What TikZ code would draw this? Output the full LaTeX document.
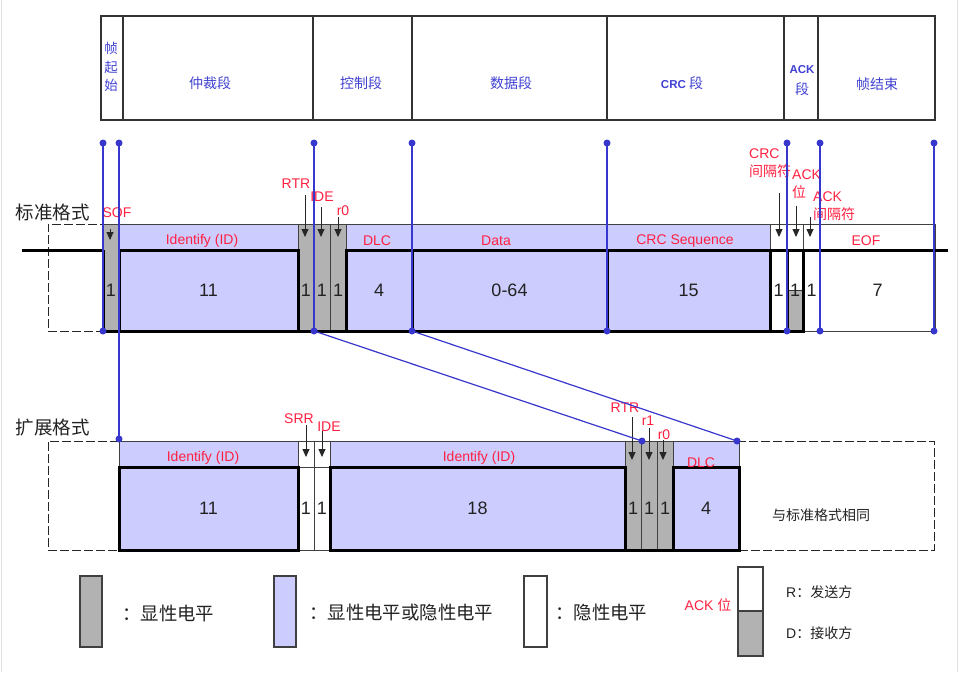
\documentclass[tikz,border=0pt]{standalone}
\usepackage{fontspec}
\setmainfont{Liberation Sans}
\newfontfamily\cjk{Noto Sans CJK SC}
\usepackage{tikz}
\usetikzlibrary{arrows.meta, calc}
\definecolor{lavfill}{RGB}{204,204,255}
\definecolor{domgray}{RGB}{178,178,178}
\definecolor{sigblue}{RGB}{55,55,205}
\definecolor{tagred}{RGB}{255,32,64}
\definecolor{hdrblue}{RGB}{64,64,210}
\definecolor{inkgray}{RGB}{34,34,34}

\tikzset{
  hdrline/.style={draw=black!80, line width=1.2pt},
  hdr/.style={text=hdrblue, font=\cjk\fontsize{14}{14}\selectfont, inner sep=0pt},
  rowname/.style={text=inkgray, font=\cjk\fontsize{18.5}{18.5}\selectfont, inner sep=0pt},
  cell/.style={draw=black!75, line width=0.8pt, inner sep=0pt, outer sep=0pt, anchor=north west},
  sz/.style 2 args={minimum width=#1, minimum height=#2},
  dom/.style={fill=domgray},
  mix/.style={fill=lavfill},
  rec/.style={fill=white},
  lowbox/.style={cell, draw=black, line width=3pt, text=inkgray, font=\fontsize{18}{18}\selectfont},
  gapbox/.style={cell, draw=black!85, dash pattern=on 9pt off 3pt},
  wave/.style={draw=black, line width=3pt},
  tag/.style={text=tagred, font=\fontsize{14}{14}\selectfont, inner sep=0pt},
  num/.style={text=inkgray, font=\fontsize{18}{18}\selectfont, inner sep=0pt},
  darr/.style={draw=black!85, line width=0.9pt, -{Triangle[length=8pt, width=7pt]}},
  sig/.style={draw=sigblue, line width=1.2pt},
  dot/.style={circle, fill=sigblue, inner sep=0pt, minimum size=7pt},
  legtxt/.style={anchor=west, text=inkgray, font=\cjk\fontsize{18.4}{18.4}\selectfont, inner sep=0pt},
  keytxt/.style={anchor=west, text=inkgray, font=\fontsize{14}{14}\selectfont, inner sep=0pt},
}

\begin{document}
\begin{tikzpicture}[x=1pt, y=-1pt]
\useasboundingbox (0,0) rectangle (960,672);
\draw[black!12] (1.5,0) -- (1.5,672);
\draw[black!12] (957.5,0) -- (957.5,672);

% field names
\draw[hdrline] (101,16) rectangle (935,120);
\foreach \x in {123,313,412,607,784,818}
  \draw[hdrline] (\x,16) -- (\x,120);
\node[hdr, align=center, font=\cjk\fontsize{13.5}{18.5}\selectfont] (hsof) at (111,67) {帧\\起\\始};
\node[hdr] (harb) at (210,83) {仲裁段};
\node[hdr] (hctl) at (361,83) {控制段};
\node[hdr] (hdata) at (511,83) {数据段};
\node[hdr] (hcrc) at (682,83) {{\rmfamily\bfseries\fontsize{11.5}{11.5}\selectfont CRC} 段};
\node[hdr, font=\rmfamily\bfseries\fontsize{11.5}{11.5}\selectfont] (hack) at (802,70) {ACK};
\node[hdr] (hackb) at (802,89) {段};
\node[hdr] (heof) at (877,84) {帧结束};

\node[rowname] (stdname) at (53,212) {标准格式};
\node[rowname] (extname) at (53,427) {扩展格式};

% standard format
\coordinate (busw) at (22,250);
\coordinate (buse) at (948,250);
\node[gapbox, sz={55}{107}] (stdpre) at (48,224) {};
\node[cell, mix, sz={179}{26}] (idup) at (119,224) {};
\node[cell, mix, sz={66}{26}] (dlcup) at (346,224) {};
\node[cell, mix, sz={195}{26}] (dataup) at (412,224) {};
\node[cell, mix, sz={163}{26}] (crcup) at (607,224) {};
\node[cell, rec, sz={17}{26}] (cdelup) at (770,224) {};
\node[cell, rec, sz={16}{26}] (ackup) at (787,224) {};
\node[cell, rec, sz={132}{26}] (eofup) at (803,224) {};
\node[cell, num, sz={17}{81}] (cdello) at (770,250) {1};
\node[cell, num, sz={17}{81}] (ackdl) at (803,250) {1};
\node[cell, num, sz={115}{81}] (eoflo) at (820,250) {7};
\draw[wave] (busw) -- (buse);
\node[cell, dom, sz={16}{107}] (sof) at (103,224) {};
\node[cell, dom, sz={16}{107}] (rtr) at (298,224) {};
\node[cell, dom, sz={16}{107}] (ide) at (314,224) {};
\node[cell, dom, sz={16}{107}] (rzero) at (330,224) {};
\node[lowbox, mix, sz={179}{81}] (idlo) at (119,250) {11};
\node[lowbox, mix, sz={66}{81}] (dlclo) at (346,250) {4};
\node[lowbox, mix, sz={195}{81}] (datalo) at (412,250) {0-64};
\node[lowbox, mix, sz={163}{81}] (crclo) at (607,250) {15};
\node[lowbox, rec, sz={16}{81}, path picture={
    \fill[domgray] (path picture bounding box.west) rectangle (path picture bounding box.south east);
    \draw[black!80, line width=0.8pt] (path picture bounding box.west) -- (path picture bounding box.east);}] (acklo) at (787,250) {1};
\draw[wave] (sof.west |- busw) -- (sof.south west) -- (sof.south east);
\draw[wave] (rtr.south west) -- (rzero.south east);
\draw[wave] (cdello.south west) -- (cdello.south east);
\node[num] (nsof) at (sof |- idlo) {1};
\node[num] (nrtr) at (rtr |- idlo) {1};
\node[num] (nide) at (ide |- idlo) {1};
\node[num] (nrzero) at (rzero |- idlo) {1};

\node[tag] (tsof) at (117,213) {SOF};
\node[tag] (trtr) at (296,184) {RTR};
\node[tag] (tide) at (322,197) {IDE};
\node[tag] (trzero) at (343,211) {r0};
\node[tag] (tid) at (202,241) {Identify (ID)};
\node[tag] (tdlc) at (377,241) {DLC};
\node[tag] (tdata) at (496,241) {Data};
\node[tag] (tcrc) at (685,241) {CRC Sequence};
\node[tag] (teof) at (866,241) {EOF};
\node[tag, anchor=north west, align=left, font=\fontsize{14}{18}\selectfont] (tcdel) at (749,149) {CRC\\{\cjk 间隔符}};
\node[tag, anchor=north west, align=left, font=\fontsize{14}{18}\selectfont] (tack) at (792,170) {ACK\\{\cjk 位}};
\node[tag, anchor=north west, align=left, font=\fontsize{14}{18}\selectfont] (tackdl) at (813,192) {ACK\\{\cjk 间隔符}};

\draw[darr] (sof.north) ++(-1,5) -- ++(0,11);
\draw[darr] (rtr.north) ++(-1,-29) -- ++(0,42);
\draw[darr] (ide.north) ++(-1,-17) -- ++(0,30);
\draw[darr] (rzero.north) ++(0,-7) -- ++(0,20);
\draw[darr] (cdelup.north) ++(0.5,-31) -- ++(0,44);
\draw[darr] (ackup.north) ++(1,-18) -- ++(0,31);
\draw[darr] (ackdl.north) ++(-1.5,-33) -- ++(0,20);

% extended format
\node[gapbox, sz={71}{109}] (extpre) at (48,441) {};
\node[gapbox, sz={195}{109}] (extpost) at (739,441) {};
\node[cell, mix, sz={179}{26}] (xidaup) at (119,441) {};
\node[cell, rec, sz={16}{26}] (srrup) at (298,441) {};
\node[cell, rec, sz={16}{26}] (xideup) at (314,441) {};
\node[cell, mix, sz={295}{26}] (xidbup) at (330,441) {};
\node[cell, mix, sz={66}{26}] (xdlcup) at (673,441) {};
\node[cell, num, sz={16}{83}] (srrlo) at (298,467) {1};
\node[cell, num, sz={16}{83}] (xidelo) at (314,467) {1};
\node[cell, dom, sz={16}{109}] (xrtr) at (625,441) {};
\node[cell, dom, sz={16}{109}] (xrone) at (641,441) {};
\node[cell, dom, sz={16}{109}] (xrzero) at (657,441) {};
\node[lowbox, mix, sz={179}{83}] (xidalo) at (119,467) {11};
\node[lowbox, mix, sz={295}{83}] (xidblo) at (330,467) {18};
\node[lowbox, mix, sz={66}{83}] (xdlclo) at (673,467) {4};
\draw[wave] (xrtr.south west) -- (xrzero.south east);
\node[num] (nxrtr) at (xrtr |- xidalo) {1};
\node[num] (nxrone) at (xrone |- xidalo) {1};
\node[num] (nxrzero) at (xrzero |- xidalo) {1};
\node[text=inkgray, font=\cjk\fontsize{14}{14}\selectfont, inner sep=0pt] (same) at (821,515) {与标准格式相同};

\node[tag] (txida) at (203,458) {Identify (ID)};
\node[tag] (txidb) at (479,458) {Identify (ID)};
\node[tag] (tsrr) at (299,419) {SRR};
\node[tag] (txide) at (329,427) {IDE};
\node[tag] (txrtr) at (625,408) {RTR};
\node[tag] (txrone) at (648,421) {r1};
\node[tag] (txrzero) at (664,435) {r0};
\node[tag] (txdlc) at (701,463) {DLC};

\draw[darr] (srrup.north) ++(0,-16) -- ++(0,32);
\draw[darr] (xideup.north) ++(0,-10) -- ++(0,26);
\draw[darr] (xrtr.north) ++(-1,-24) -- ++(0,43);
\draw[darr] (xrone.north) ++(0,-13) -- ++(0,32);
\draw[darr] (xrzero.north) ++(-2,-1) -- ++(0,20);

% legend
\node[cell, dom, line width=1.1pt, sz={22}{71}] (lgdom) at (80,576) {};
\node[legtxt] (lgdomt) at (122,613) {：显性电平};
\node[cell, mix, line width=1.1pt, sz={22}{71}] (lgmix) at (274,576) {};
\node[legtxt] (lgmixt) at (309,613) {：显性电平或隐性电平};
\node[cell, rec, line width=1.1pt, sz={23}{71}] (lgrec) at (524,576) {};
\node[legtxt] (lgrect) at (555,612) {：隐性电平};
\node[tag] (lgack) at (708,605) {ACK {\cjk 位}};
\node[cell, rec, line width=1.1pt, sz={25}{44}] (lgackr) at (738,567) {};
\node[cell, dom, line width=1.1pt, sz={25}{45}] (lgackd) at (738,611) {};
\node[keytxt] (lgr) at (786,592) {R{\cjk ：发送方}};
\node[keytxt] (lgd) at (786,633) {D{\cjk ：接收方}};

% field boundaries
\foreach \x in {103,314,412,607,787,820,934} {
  \node[dot] (top\x) at (\x,143) {};
  \node[dot] (bot\x) at (\x,331) {};
  \draw[sig] (top\x.center) -- (bot\x.center);
}
\node[dot] (top119) at (119,143) {};
\node[dot] (ext119) at (119,439) {};
\node[dot] (extrtr) at (642,441) {};
\node[dot] (extdlc) at (737,441) {};
\draw[sig] (top119.center) -- (ext119.center);
\draw[sig] (bot314.center) -- (extrtr.center);
\draw[sig] (bot412.center) -- (extdlc.center);
\end{tikzpicture}
\end{document}
